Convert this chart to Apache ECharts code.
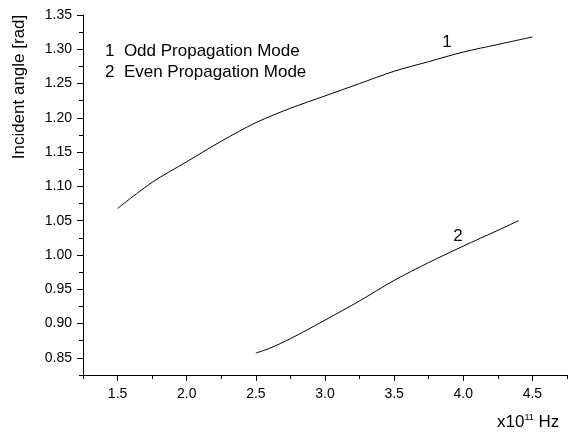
<!DOCTYPE html>
<html>
<head>
<meta charset="utf-8">
<script src="https://cdn.jsdelivr.net/npm/echarts@6/dist/echarts.min.js"></script>
<style>
  html, body { margin: 0; padding: 0; background: #fff; }
  #main { width: 570px; height: 432px; }
</style>
</head>
<body>
<div id="main"></div>
<script>
// 数据
var oddX = [1.5, 1.75, 2.0, 2.25, 2.5, 2.75, 3.0, 3.25, 3.5, 3.75, 4.0, 4.25, 4.5];
var oddY = [1.068, 1.106, 1.136, 1.166, 1.193, 1.214, 1.232, 1.250, 1.268, 1.282, 1.296, 1.307, 1.318];
var evenX = [2.5, 2.6, 2.75, 3.0, 3.25, 3.5, 3.75, 4.0, 4.25, 4.4];
var evenY = [0.857, 0.864, 0.878, 0.905, 0.933, 0.963, 0.989, 1.013, 1.036, 1.050];
var xMajor = [1.5, 2.0, 2.5, 3.0, 3.5, 4.0, 4.5];
var yMajor = [0.85, 0.90, 0.95, 1.00, 1.05, 1.10, 1.15, 1.20, 1.25, 1.30, 1.35];

var font = "'Liberation Sans', Arial, sans-serif";
var myChart = echarts.init(document.getElementById('main'));

function pairs(xs, ys) {
    return xs.map(function (x, i) { return [x, ys[i]]; });
}
function isMajor(v, list) {
    return list.some(function (m) { return Math.abs(m - v) < 1e-6; });
}

var option = {
    backgroundColor: '#fff',
    animation: false,
    grid: { left: 83, top: 15, right: 1, bottom: 57 },
    xAxis: [{
        type: 'value', min: 1.25, max: 4.75, interval: 0.25,
        axisLine: { lineStyle: { color: '#000', width: 1 } },
        axisTick: { length: 4, lineStyle: { color: '#000' } },
        splitLine: { show: false },
        axisLabel: {
            margin: 12, color: '#000', fontSize: 14, fontFamily: font,
            formatter: function (v) { return isMajor(v, xMajor) ? v.toFixed(1) : ''; }
        }
    }, {
        type: 'value', min: 1.25, max: 4.75, position: 'bottom',
        axisLine: { show: false },
        axisTick: { show: true, length: 6, customValues: xMajor, lineStyle: { color: '#000' } },
        axisLabel: { show: false },
        splitLine: { show: false }
    }],
    yAxis: [{
        type: 'value', min: 0.825, max: 1.35, interval: 0.025,
        axisLine: { show: true, lineStyle: { color: '#000', width: 1 } },
        axisTick: { show: true, length: 4, lineStyle: { color: '#000' } },
        splitLine: { show: false },
        axisLabel: {
            margin: 11, color: '#000', fontSize: 14, fontFamily: font,
            formatter: function (v) { return isMajor(v, yMajor) ? v.toFixed(2) : ''; }
        }
    }, {
        type: 'value', min: 0.825, max: 1.35, position: 'left',
        axisLine: { show: false },
        axisTick: { show: true, length: 6, customValues: yMajor, lineStyle: { color: '#000' } },
        axisLabel: { show: false },
        splitLine: { show: false }
    }],
    graphic: [
        { type: 'text', x: 105, y: 51, style: { text: '1  Odd Propagation Mode', font: '17px ' + font, fill: '#000', verticalAlign: 'middle' } },
        { type: 'text', x: 105, y: 72, style: { text: '2  Even Propagation Mode', font: '17px ' + font, fill: '#000', verticalAlign: 'middle' } },
        { type: 'text', x: 447, y: 42, style: { text: '1', font: '17px ' + font, fill: '#000', align: 'center', verticalAlign: 'middle' } },
        { type: 'text', x: 458, y: 236, style: { text: '2', font: '17px ' + font, fill: '#000', align: 'center', verticalAlign: 'middle' } },
        { type: 'text', x: 19, y: 87, rotation: Math.PI / 2,
          style: { text: 'Incident angle [rad]', font: '17px ' + font, fill: '#000', align: 'center', verticalAlign: 'middle' } },
        { type: 'text', x: 497, y: 431,
          style: {
              text: '{a|x10}{s|11}{a| Hz}',
              verticalAlign: 'bottom',
              rich: {
                  a: { fontSize: 17, fontFamily: font, fill: '#000', verticalAlign: 'bottom' },
                  s: { fontSize: 9, fontFamily: font, fill: '#000', verticalAlign: 'top', padding: [0, 0, 9, 0] }
              }
          } }
    ],
    series: [{
        name: '1', type: 'line', data: pairs(oddX, oddY),
        showSymbol: false, smooth: 0.3,
        lineStyle: { color: '#000', width: 1 }
    }, {
        name: '2', type: 'line', data: pairs(evenX, evenY),
        showSymbol: false, smooth: 0.3,
        lineStyle: { color: '#000', width: 1 }
    }]
};
myChart.setOption(option);
</script>
</body>
</html>
